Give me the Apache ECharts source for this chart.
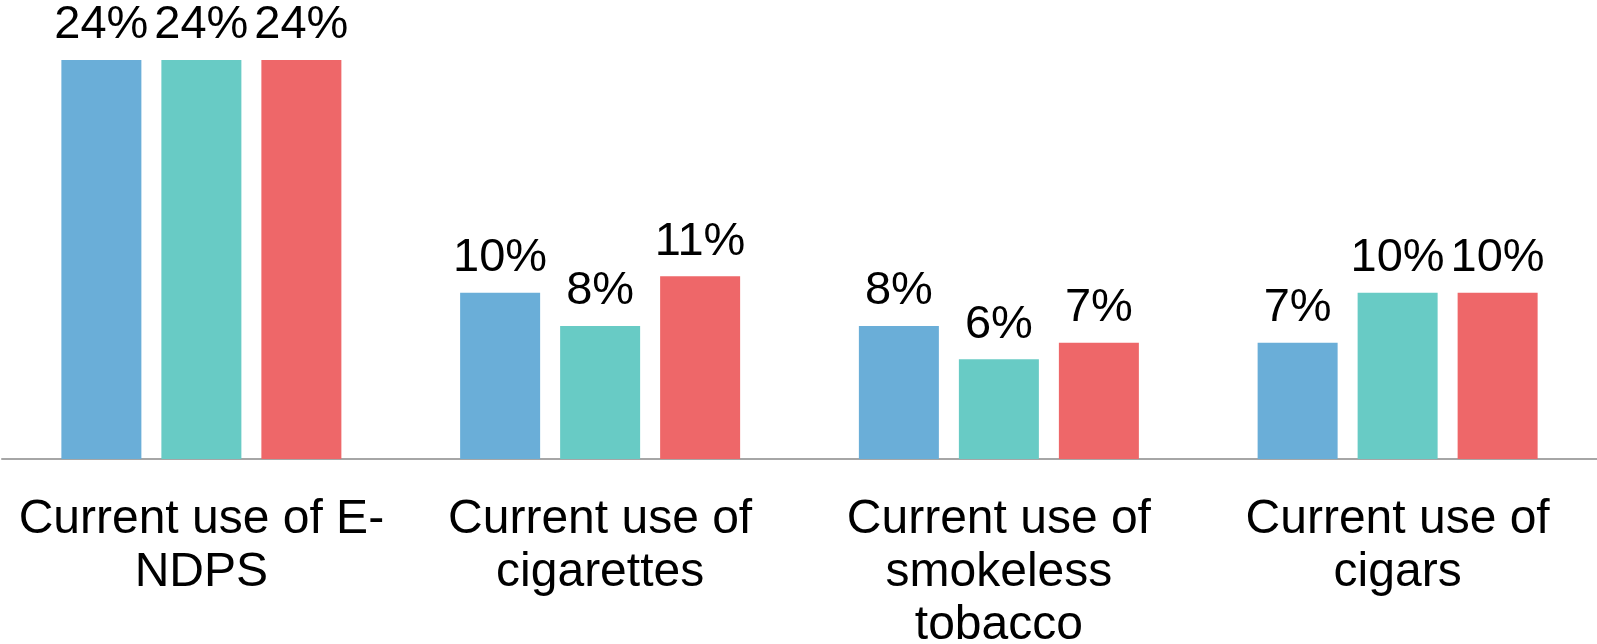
<!DOCTYPE html>
<html>
<head>
<meta charset="utf-8">
<script src="https://cdn.jsdelivr.net/npm/echarts@6/dist/echarts.min.js"></script>
<style>
html,body{margin:0;padding:0;background:#fff;}
#chart{width:1597px;height:644px;}
</style>
</head>
<body>
<div id="chart"></div>
<script>
const categories = ["Current use of E-\nNDPS", "Current use of\ncigarettes", "Current use of\nsmokeless\ntobacco", "Current use of\ncigars"];
const series1 = [24, 10, 8, 7];
const series2 = [24, 8, 6, 10];
const series3 = [24, 11, 7, 10];
const colors = ["#6AAED8", "#68CBC5", "#EE6769"];

const chart = echarts.init(document.getElementById('chart'));
const labelCfg = {
  show: true, position: 'top', distance: 11,
  formatter: p => p.value + '%',
  color: '#000', fontSize: 47, fontFamily: 'Liberation Sans, Arial, sans-serif'
};
function mk(data, i) {
  return {
    type: 'bar', data: data, barWidth: 80, barGap: '25%',
    itemStyle: { color: colors[i] },
    label: labelCfg, silent: true, animation: false
  };
}
chart.setOption({
  animation: false,
  grid: { left: 2, right: 0, top: 60, bottom: 185, containLabel: false, outerBoundsMode: 'none' },
  xAxis: {
    type: 'category', data: categories,
    axisLine: { lineStyle: { color: '#A6A6A6', width: 2 } },
    axisTick: { show: false },
    axisLabel: {
      interval: 0, margin: 34, color: '#000', fontSize: 48, lineHeight: 53,
      fontFamily: 'Liberation Sans, Arial, sans-serif', align: 'center'
    }
  },
  yAxis: {
    type: 'value', min: 0, max: 24, show: false,
    splitLine: { show: false }
  },
  series: [mk(series1, 0), mk(series2, 1), mk(series3, 2)]
});
</script>
</body>
</html>
